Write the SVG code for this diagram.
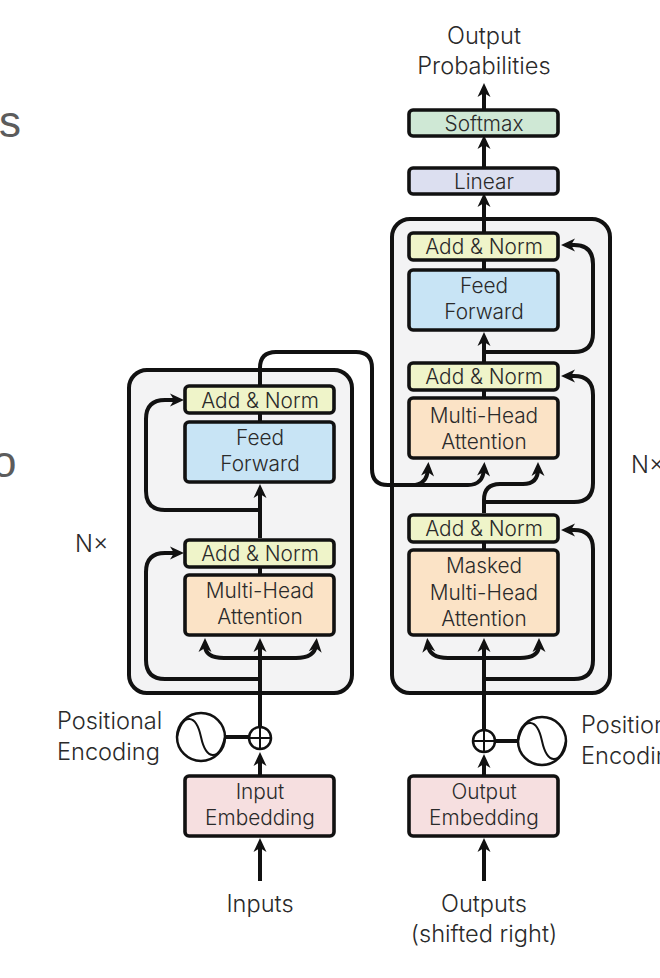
<svg xmlns="http://www.w3.org/2000/svg" width="660" height="978" viewBox="0 0 660 978">
<style>
text{font-family:"Inter","Liberation Sans",sans-serif;font-weight:300;font-size:20.8px;fill:#2a2a2a;text-anchor:middle}
.o{font-size:23.6px}
.l{text-anchor:start}
.big{font-family:"Liberation Sans",sans-serif;font-weight:400;font-size:44px;fill:#5c5c5c;text-anchor:start}
.box{stroke:#111;stroke-width:3.6}
.stack{fill:#f3f3f4;stroke:#111;stroke-width:4}
.add{fill:#eff4c9}.ff{fill:#c8e4f5}.mha{fill:#fbe3c6}.emb{fill:#f6dfe0}.soft{fill:#cfe8d5}.lin{fill:#dcdff0}
.c{fill:none;stroke:#111;stroke-width:4}
.a{marker-end:url(#arrow)}
.thin{fill:none;stroke:#111;stroke-width:2}
.circ{fill:#fff;stroke:#111;stroke-width:2.5}
</style>
<defs>
<marker id="arrow" markerUnits="userSpaceOnUse" markerWidth="16" markerHeight="16" viewBox="0 0 16 16" refX="8" refY="8" orient="auto">
<polygon points="15,8 1,1.5 5,8 1,14.5" fill="#111"/>
</marker>
</defs>
<text class="big" x="-1" y="137">s</text>
<text class="big" x="-8" y="477">o</text>
<g id="encoder-stack"><rect class="stack" x="129" y="370" width="223" height="323" rx="18"/></g>
<g id="decoder-stack"><rect class="stack" x="392" y="219" width="218" height="474" rx="18"/></g>
<g id="connectors">
<path class="c a" d="M260 881V845"/>
<path class="c a" d="M260 775V759"/>
<path class="c a" d="M260 727V645"/>
<path class="c a" d="M260 658H224C212 658 205 654 205 645"/>
<path class="c a" d="M260 658H296C308 658 315 654 316 645"/>
<path class="c a" d="M260 679H165Q146 679 146 660V572Q146 553 165 553H177"/>
<path class="c" d="M260 575V567"/>
<path class="c a" d="M260 538V491"/>
<path class="c a" d="M260 510H165Q146 510 146 491V419Q146 400 165 400H177"/>
<path class="c" d="M260 422V413"/>
<path class="c a" d="M260 386V368Q260 352 276 352H356Q372 352 372 368V469Q372 485 388 485H412Q427 485 428 469"/>
<path class="c a" d="M400 485H468Q483 485 484 469"/>
<path class="c a" d="M484 881V845"/>
<path class="c a" d="M484 775V761"/>
<path class="c a" d="M484 730V645"/>
<path class="c a" d="M484 658H448C436 658 429 654 428 645"/>
<path class="c a" d="M484 658H520C532 658 539 654 539 645"/>
<path class="c a" d="M484 679H574Q593 679 593 660V549Q593 530 574 530H568"/>
<path class="c" d="M484 550V542"/>
<path class="c a" d="M484 513V500Q484 484 500 484H523Q538 484 538 469"/>
<path class="c a" d="M484 502H574Q593 502 593 483V395Q593 376 574 376H568"/>
<path class="c" d="M484 398V390"/>
<path class="c a" d="M484 362V339"/>
<path class="c a" d="M484 352H574Q593 352 593 333V264Q593 245 574 245H568"/>
<path class="c" d="M484 270V260"/>
<path class="c a" d="M484 233V200"/>
<path class="c a" d="M484 168V142"/>
<path class="c a" d="M484 110V90"/>
<path class="c" d="M225 737H249"/>
<path class="c" d="M494 741H518"/>
</g>
<g id="softmax"><rect class="box soft" x="409" y="110" width="149" height="26" rx="4"/><text x="484" y="131">Softmax</text></g>
<g id="linear"><rect class="box lin" x="409" y="168" width="149" height="26" rx="4"/><text x="484" y="189">Linear</text></g>
<g id="dec-add3"><rect class="box add" x="409" y="233" width="149" height="27" rx="4"/><text x="484" y="254">Add &amp; Norm</text></g>
<g id="dec-ff"><rect class="box ff" x="409" y="270" width="149" height="60" rx="4"/><text x="484" y="293">Feed</text><text x="484" y="319">Forward</text></g>
<g id="dec-add2"><rect class="box add" x="409" y="363" width="149" height="27" rx="4"/><text x="484" y="384">Add &amp; Norm</text></g>
<g id="dec-mha"><rect class="box mha" x="409" y="398" width="149" height="60" rx="4"/><text x="484" y="423">Multi-Head</text><text x="484" y="449">Attention</text></g>
<g id="dec-add1"><rect class="box add" x="409" y="515" width="149" height="27" rx="4"/><text x="484" y="536">Add &amp; Norm</text></g>
<g id="dec-masked"><rect class="box mha" x="409" y="550" width="149" height="85" rx="4"/><text x="484" y="573">Masked</text><text x="484" y="600">Multi-Head</text><text x="484" y="626">Attention</text></g>
<g id="out-emb"><rect class="box emb" x="409" y="776" width="149" height="60" rx="4"/><text x="484" y="799">Output</text><text x="484" y="825">Embedding</text></g>
<g id="enc-add2"><rect class="box add" x="185" y="386" width="149" height="27" rx="4"/><text x="260" y="408">Add &amp; Norm</text></g>
<g id="enc-ff"><rect class="box ff" x="185" y="422" width="149" height="60" rx="4"/><text x="260" y="445">Feed</text><text x="260" y="471">Forward</text></g>
<g id="enc-add1"><rect class="box add" x="185" y="540" width="149" height="27" rx="4"/><text x="260" y="561">Add &amp; Norm</text></g>
<g id="enc-mha"><rect class="box mha" x="185" y="575" width="149" height="60" rx="4"/><text x="260" y="598">Multi-Head</text><text x="260" y="624">Attention</text></g>
<g id="in-emb"><rect class="box emb" x="185" y="776" width="149" height="60" rx="4"/><text x="260" y="799">Input</text><text x="260" y="825">Embedding</text></g>
<g id="enc-plus"><circle class="circ" cx="260" cy="738" r="11"/><path class="thin" d="M249 738H271M260 727V749"/></g>
<g id="dec-plus"><circle class="circ" cx="484" cy="741" r="11"/><path class="thin" d="M473 741H495M484 730V752"/></g>
<g id="enc-pe"><circle class="circ" cx="201" cy="737" r="24"/><path class="thin" d="M177 737C183 712 196 714 201 737C206 760 219 762 225 737"/></g>
<g id="dec-pe"><circle class="circ" cx="542" cy="741" r="24"/><path class="thin" d="M518 741C524 716 537 718 542 741C547 764 560 766 566 741"/></g>
<g id="labels">
<text class="o" x="484" y="44">Output</text><text class="o" x="484" y="74">Probabilities</text>
<text class="o" x="260" y="912">Inputs</text>
<text class="o" x="484" y="912">Outputs</text><text class="o" x="484" y="942">(shifted right)</text>
<text class="o l" x="57" y="729">Positional</text><text class="o l" x="57" y="760">Encoding</text>
<text class="o l" x="581" y="733">Positional</text><text class="o l" x="581" y="764">Encoding</text>
<text class="o l" x="75" y="552">N×</text><text class="o l" x="631" y="473">N×</text>
</g>
</svg>
